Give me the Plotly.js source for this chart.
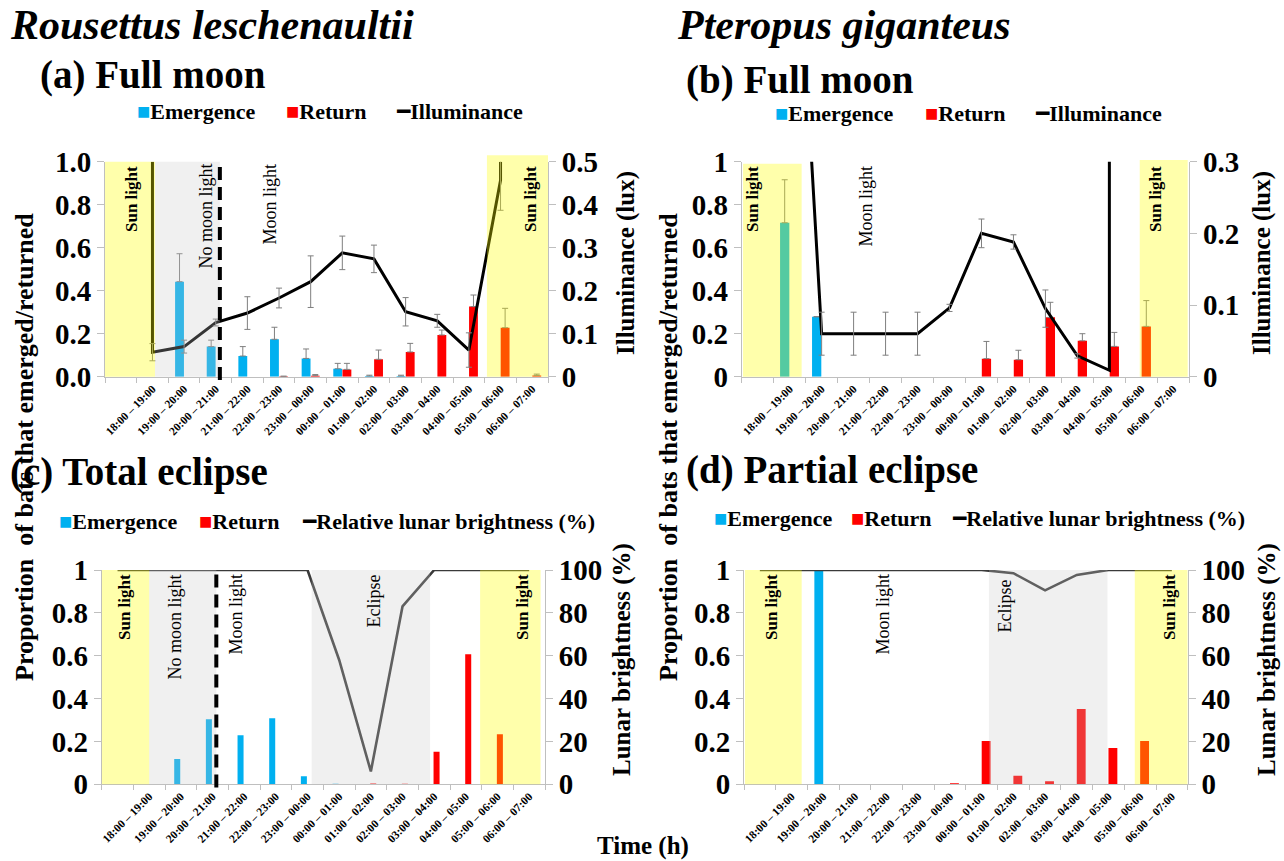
<!DOCTYPE html>
<html><head><meta charset="utf-8">
<script src="https://cdn.plot.ly/plotly-3.0.1.min.js"></script>
<style>html,body{margin:0;padding:0;background:#fff}#chart{width:1284px;height:861px}</style>
</head><body><div id="chart"></div>
<script>
// ---------------- DATA ----------------
const categories = ['', '18:00 – 19:00', '19:00 – 20:00', '20:00 – 21:00', '21:00 – 22:00', '22:00 – 23:00',
  '23:00 – 00:00', '00:00 – 01:00', '01:00 – 02:00', '02:00 – 03:00', '03:00 – 04:00', '04:00 – 05:00',
  '05:00 – 06:00', '06:00 – 07:00'];

// (a) Rousettus leschenaultii, full moon
const aEmergence    = [0, 0, 0.442, 0.14, 0.096, 0.174, 0.085, 0.037, 0.003, 0.003, 0, 0, 0, 0];
const aEmergenceErr = [0, 0, 0.13, 0.03, 0.044, 0.056, 0.044, 0.025, 0.004, 0.004, 0, 0, 0, 0];
const aReturn       = [0, 0, 0, 0, 0, 0.002, 0.005, 0.034, 0.081, 0.115, 0.194, 0.326, 0.228, 0.006];
const aReturnErr    = [0, 0, 0, 0, 0, 0, 0.005, 0.028, 0.043, 0.04, 0.023, 0.054, 0.09, 0.006];
const aLuxTime = ['18:00 – 19:00', '18:00 – 19:00', '19:00 – 20:00', '20:00 – 21:00', '21:00 – 22:00', '22:00 – 23:00',
  '23:00 – 00:00', '00:00 – 01:00', '01:00 – 02:00', '02:00 – 03:00', '03:00 – 04:00', '04:00 – 05:00',
  '05:00 – 06:00', '05:00 – 06:00'];
const aLux    = [0.5, 0.057, 0.07, 0.126, 0.148, 0.183, 0.221, 0.288, 0.274, 0.151, 0.13, 0.062, 0.457, 0.5];
const aLuxErr = [0, 0.02, 0.015, 0.008, 0.038, 0.023, 0.06, 0.039, 0.032, 0.033, 0.015, 0.04, 0.07, 0];

// (b) Pteropus giganteus, full moon
const bEmergence    = [0, 0.716, 0.279, 0, 0, 0, 0, 0, 0, 0, 0, 0, 0, 0];
const bEmergenceErr = [0, 0.2, 0, 0, 0, 0, 0, 0, 0, 0, 0, 0, 0, 0];
const bReturn       = [0, 0, 0, 0, 0, 0, 0, 0.084, 0.079, 0.276, 0.167, 0.141, 0.234, 0];
const bReturnErr    = [0, 0, 0, 0, 0, 0, 0, 0.08, 0.044, 0.07, 0.033, 0.065, 0.12, 0];
const bLuxTime = ['18:00 – 19:00', '19:00 – 20:00', '20:00 – 21:00', '21:00 – 22:00', '22:00 – 23:00',
  '23:00 – 00:00', '00:00 – 01:00', '01:00 – 02:00', '02:00 – 03:00', '03:00 – 04:00', '04:00 – 05:00', '04:00 – 05:00'];
const bLux    = [0.83, 0.06, 0.06, 0.06, 0.06, 0.096, 0.2, 0.188, 0.095, 0.029, 0.009, 0.9];
const bLuxErr = [0, 0.03, 0.03, 0.03, 0.03, 0.005, 0.02, 0.01, 0.026, 0.003, 0, 0];

// (c) Rousettus leschenaultii, total eclipse
const cEmergence = [0, 0, 0.118, 0.303, 0.229, 0.308, 0.037, 0.003, 0, 0, 0, 0, 0, 0];
const cReturn    = [0, 0, 0, 0, 0, 0, 0, 0, 0.004, 0.003, 0.152, 0.607, 0.233, 0];
const cBrightness = [100, 100, 100, 100, 100, 100, 100, 58, 6, 83, 100, 100, 100, 100];

// (d) Pteropus giganteus, partial eclipse
const dEmergence = [0, 0, 1.0, 0, 0, 0, 0, 0, 0, 0, 0, 0, 0, 0];
const dReturn    = [0, 0, 0, 0, 0, 0, 0.005, 0.202, 0.04, 0.014, 0.351, 0.169, 0.202, 0];
const dBrightness = [100, 100, 100, 100, 100, 100, 100, 100, 98.5, 90.5, 97.7, 100, 100, 100];

// ---------------- STYLE / LAYOUT ----------------
const W = 1284, H = 861;
const SERIF = 'Liberation Serif, Times New Roman, DejaVu Serif, serif';
const BLUE = '#00B0F0', RED = '#FF0000';
const px = x => x / W;
const py = y => 1 - y / H;
const catIndex = lbl => categories.indexOf(lbl);
const idx = categories.map((c, i) => i);

function barTrace(vals, errs, color, xa, ya, width, offset) {
  const keep = idx.filter(i => vals[i] > 0);
  const t = {
    type: 'bar', x: keep, y: keep.map(i => vals[i]), xaxis: xa, yaxis: ya,
    marker: {color: color, line: {width: 0}}, width: width, offset: offset, showlegend: false, hoverinfo: 'skip'
  };
  if (errs) {
    t.error_y = {type: 'data', symmetric: false, array: keep.map(i => errs[i]), arrayminus: keep.map(() => 0),
      color: '#7f7f7f', thickness: 1, width: 3, visible: true};
  }
  return t;
}
function lineTrace(xs, ys, xa, ya, color, w) {
  return {type: 'scatter', mode: 'lines', x: xs, y: ys, xaxis: xa, yaxis: ya,
    line: {color: color, width: w}, showlegend: false, hoverinfo: 'skip'};
}
function errTrace(xs, ys, errs, xa, ya) {
  const keep = xs.map((x, i) => i).filter(i => errs[i] > 0);
  return {type: 'scatter', mode: 'markers', x: keep.map(i => xs[i]), y: keep.map(i => ys[i]), xaxis: xa, yaxis: ya,
    marker: {size: 1, color: 'rgba(0,0,0,0)'},
    error_y: {type: 'data', array: keep.map(i => errs[i]), color: '#7f7f7f', thickness: 1, width: 3},
    showlegend: false, hoverinfo: 'skip'};
}

const data = [
  // (a)
  barTrace(aEmergence, aEmergenceErr, BLUE, 'x', 'y', 0.28, -0.285),
  barTrace(aReturn, aReturnErr, RED, 'x', 'y', 0.28, 0.005),
  lineTrace(aLuxTime.map(catIndex), aLux, 'x', 'y2', '#000', 3),
  errTrace(aLuxTime.map(catIndex), aLux, aLuxErr, 'x', 'y2'),
  // (b)
  barTrace(bEmergence, bEmergenceErr, BLUE, 'x2', 'y3', 0.29, -0.30),
  barTrace(bReturn, bReturnErr, RED, 'x2', 'y3', 0.29, 0.01),
  lineTrace(bLuxTime.map(catIndex), bLux, 'x2', 'y4', '#000', 3),
  errTrace(bLuxTime.map(catIndex), bLux, bLuxErr, 'x2', 'y4'),
  // (c)
  barTrace(cEmergence, null, BLUE, 'x3', 'y5', 0.19, -0.21),
  barTrace(cReturn, null, RED, 'x3', 'y5', 0.19, -0.02),
  lineTrace(idx, cBrightness, 'x3', 'y6', '#3a3a3a', 2.6),
  // (d)
  barTrace(dEmergence, null, BLUE, 'x4', 'y7', 0.28, -0.28),
  barTrace(dReturn, null, RED, 'x4', 'y7', 0.28, 0.0),
  lineTrace(idx, dBrightness, 'x4', 'y8', '#3a3a3a', 2.6)
];

function xAxis(x0, x1, yAnchor) {
  return {
    domain: [px(x0), px(x1)], anchor: yAnchor, range: [-0.5, 13.5], fixedrange: true,
    tickmode: 'array', tickvals: idx, ticktext: categories, tickangle: -45, ticks: '',
    tickfont: {family: SERIF, size: 11.5, color: '#000', weight: 700},
    showline: true, linecolor: '#bfbfbf', linewidth: 1, showgrid: false, zeroline: false,
    minor: {tickmode: 'linear', tick0: -0.5, dtick: 1, ticks: 'outside', ticklen: 5, tickcolor: '#bfbfbf', showgrid: false}
  };
}
function yAxis(y0, y1, xAnchor, range, dtick, fmt, side, over) {
  const ax = {
    anchor: xAnchor, range: range, dtick: dtick, tick0: 0, tickformat: fmt, fixedrange: true,
    ticks: 'outside', ticklen: 7, tickcolor: '#bfbfbf', tickwidth: 1,
    tickfont: {family: SERIF, size: 29, color: '#000', weight: 700},
    showline: true, linecolor: '#bfbfbf', linewidth: 1, showgrid: false, zeroline: false, side: side
  };
  if (over) ax.overlaying = over; else ax.domain = [py(y1), py(y0)];
  return ax;
}

const A = {x0: 105, x1: 548, y0: 161.7, y1: 376.7};
const B = {x0: 741.7, x1: 1189.3, y0: 161.7, y1: 376.7};
const C = {x0: 101.7, x1: 545, y0: 570, y1: 784.3};
const D = {x0: 744, x1: 1187.7, y0: 570, y1: 784.3};

const YEL = 'rgba(255,255,0,0.33)';
const GRY = 'rgba(200,200,200,0.27)';
function band(xa, ya, x0, x1, color, y1) {
  return {type: 'rect', xref: xa, yref: ya + ' domain', x0: x0, x1: x1, y0: 0, y1: y1 || 1,
    fillcolor: color, line: {width: 0}, layer: 'above'};
}
function dashed(xa, ya, x) {
  return {type: 'line', xref: xa, yref: ya + ' domain', x0: x, x1: x, y0: -0.015, y1: 1,
    line: {color: '#000', width: 4, dash: '13px,7px'}, layer: 'above'};
}
const shapes = [
  band('x', 'y', 1.08, 3.13, GRY), band('x', 'y', -0.5, 1.08, YEL), band('x', 'y', 11.57, 13.5, YEL, 1.03),
  dashed('x', 'y', 3.13),
  band('x2', 'y3', -0.46, 1.375, YEL, 0.99), band('x2', 'y3', 11.95, 13.45, YEL, 1.008),
  band('x3', 'y5', 1.0, 3.12, GRY), band('x3', 'y5', 6.13, 9.87, GRY),
  band('x3', 'y5', -0.5, 1.0, YEL), band('x3', 'y5', 11.45, 13.36, YEL),
  dashed('x3', 'y5', 3.12),
  band('x4', 'y7', 7.23, 10.97, GRY),
  band('x4', 'y7', -0.47, 1.32, YEL), band('x4', 'y7', 11.83, 13.5, YEL)
];

function txt(text, x, y, size, opts) {
  return Object.assign({text: text, x: px(x), y: py(y), xref: 'paper', yref: 'paper', showarrow: false,
    xanchor: 'left', yanchor: 'middle', font: {family: SERIF, size: size, color: '#000', weight: 700}}, opts || {});
}
function vtxt(text, cx, top, size, bold) {
  return {text: text, x: px(cx), y: py(top), xref: 'paper', yref: 'paper', showarrow: false, textangle: -90,
    xanchor: 'center', yanchor: 'top', font: {family: SERIF, size: size, color: '#000', weight: bold ? 700 : 400}};
}
function vtitle(text, cx, cy, size) {
  return {text: text, x: px(cx), y: py(cy), xref: 'paper', yref: 'paper', showarrow: false, textangle: -90,
    xanchor: 'center', yanchor: 'middle', font: {family: SERIF, size: size, color: '#000', weight: 700}};
}
const sq = c => '<span style="color:' + c + '">■</span>';
const ln = '<span style="color:#000">━</span>';

const annotations = [
  txt('<i>Rousettus leschenaultii</i>', 8, 25, 42),
  txt('<i>Pteropus giganteus</i>', 675, 25, 42),
  txt('(a) Full moon', 38, 75, 39),
  txt('(b) Full moon', 684, 80, 39),
  txt('(c) Total eclipse', 8, 472, 39),
  txt('(d) Partial eclipse', 684, 470, 39),
  // legends
  txt(sq(BLUE) + 'Emergence', 135, 111, 22), txt(sq(RED) + 'Return', 284, 111, 22), txt(ln + 'Illuminance', 394, 111, 22),
  txt(sq(BLUE) + 'Emergence', 773, 113, 22), txt(sq(RED) + 'Return', 923, 113, 22), txt(ln + 'Illuminance', 1033, 113, 22),
  txt(sq(BLUE) + 'Emergence', 57, 521, 22), txt(sq(RED) + 'Return', 197, 521, 22), txt(ln + 'Relative lunar brightness (%)', 300, 521, 22),
  txt(sq(BLUE) + 'Emergence', 712, 518, 22), txt(sq(RED) + 'Return', 849, 518, 22), txt(ln + 'Relative lunar brightness (%)', 950, 518, 22),
  // axis titles
  vtitle('Proportion  of bats that emerged/returned', 25, 447, 26),
  vtitle('Proportion  of bats that emerged/returned', 669, 447, 26),
  vtitle('Illuminance (lux)', 626, 263, 25),
  vtitle('Illuminance (lux)', 1262, 263, 25),
  vtitle('Lunar brightness (%)', 622, 660, 25),
  vtitle('Lunar brightness (%)', 1267, 660, 25),
  txt('Time (h)', 643, 846, 25, {xanchor: 'center'}),
  // region labels
  vtxt('Sun light', 131, 164, 17, true), vtxt('No moon light', 205, 162, 18), vtxt('Moon light', 269, 162, 18),
  vtxt('Sun light', 530, 164, 17, true),
  vtxt('Sun light', 752, 164, 17, true), vtxt('Moon light', 865, 164, 18), vtxt('Sun light', 1155, 164, 17, true),
  vtxt('Sun light', 124, 572, 17, true), vtxt('No moon light', 174, 572, 18), vtxt('Moon light', 235, 572, 18),
  vtxt('Eclipse', 373, 573, 18), vtxt('Sun light', 522, 572, 17, true),
  vtxt('Sun light', 771, 572, 17, true), vtxt('Moon light', 882, 572, 18),
  vtxt('Eclipse', 1004, 578, 18), vtxt('Sun light', 1169, 572, 17, true)
];

const layout = {
  width: W, height: H, margin: {l: 0, r: 0, t: 0, b: 0}, paper_bgcolor: '#fff', plot_bgcolor: 'rgba(0,0,0,0)',
  showlegend: false, barmode: 'overlay', font: {family: SERIF, color: '#000'},
  xaxis: xAxis(A.x0, A.x1, 'y'),
  yaxis: yAxis(A.y0, A.y1, 'x', [0, 1], 0.2, '.1f', 'left'),
  yaxis2: yAxis(A.y0, A.y1, 'x', [0, 0.5], 0.1, '', 'right', 'y'),
  xaxis2: xAxis(B.x0, B.x1, 'y3'),
  yaxis3: yAxis(B.y0, B.y1, 'x2', [0, 1], 0.2, '', 'left'),
  yaxis4: yAxis(B.y0, B.y1, 'x2', [0, 0.3], 0.1, '', 'right', 'y3'),
  xaxis3: xAxis(C.x0, C.x1, 'y5'),
  yaxis5: yAxis(C.y0, C.y1, 'x3', [0, 1], 0.2, '', 'left'),
  yaxis6: yAxis(C.y0, C.y1, 'x3', [0, 100], 20, '', 'right', 'y5'),
  xaxis4: xAxis(D.x0, D.x1, 'y7'),
  yaxis7: yAxis(D.y0, D.y1, 'x4', [0, 1], 0.2, '', 'left'),
  yaxis8: yAxis(D.y0, D.y1, 'x4', [0, 100], 20, '', 'right', 'y7'),
  shapes: shapes, annotations: annotations
};

Plotly.newPlot('chart', data, layout, {staticPlot: true, displayModeBar: false});
</script></body></html>
